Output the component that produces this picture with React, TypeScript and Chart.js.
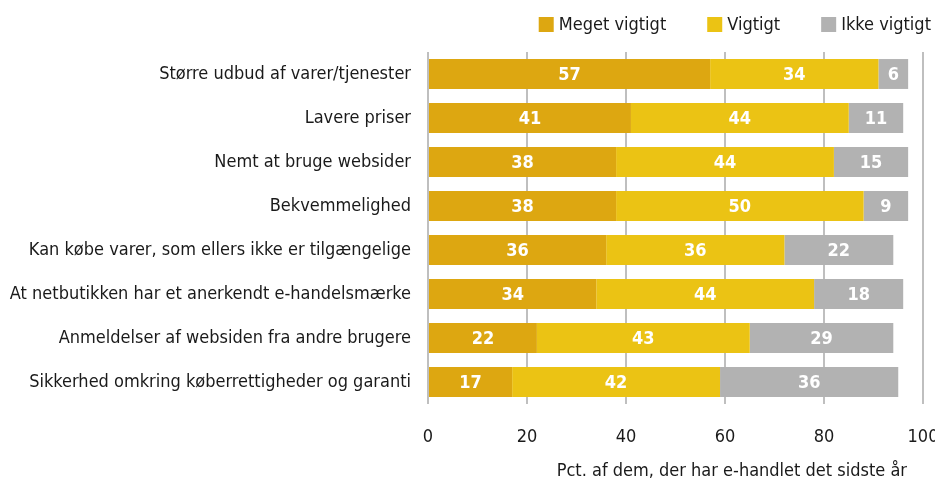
import React, { useEffect, useRef } from "react";
import { Chart, registerables } from "chart.js";

Chart.register(...registerables);

const categories = [
  "Større udbud af varer/tjenester",
  "Lavere priser",
  "Nemt at bruge websider",
  "Bekvemmelighed",
  "Kan købe varer, som ellers ikke er tilgængelige",
  "At netbutikken har et anerkendt e-handelsmærke",
  "Anmeldelser af websiden fra andre brugere",
  "Sikkerhed omkring køberrettigheder og garanti",
];
const megetVigtigt = [57, 41, 38, 38, 36, 34, 22, 17];
const vigtigt = [34, 44, 44, 50, 36, 44, 43, 42];
const ikkeVigtigt = [6, 11, 15, 9, 22, 18, 29, 36];
const seriesNames = ["Meget vigtigt", "Vigtigt", "Ikke vigtigt"];
const seriesColors = ["#DDA711", "#EBC314", "#B2B2B2"];
const xMin = 0;
const xMax = 100;
const xStep = 20;
const axisTitle = "Pct. af dem, der har e-handlet det sidste år";

const FONT = "'Liberation Sans Narrow', 'Arial Narrow', 'DejaVu Sans Condensed', sans-serif";
const TEXT = "#1a1a1a";
const SIZE = 18;

const valueLabels = {
  id: "valueLabels",
  afterDatasetsDraw(chart: any) {
    const ctx = chart.ctx;
    ctx.save();
    ctx.fillStyle = "#ffffff";
    ctx.font = `bold ${SIZE}px ${FONT}`;
    ctx.textAlign = "center";
    ctx.textBaseline = "middle";
    chart.data.datasets.forEach((ds: any, i: number) => {
      const meta = chart.getDatasetMeta(i);
      meta.data.forEach((el: any, j: number) => {
        const p = el.getCenterPoint();
        ctx.fillText(String(ds.data[j]), p.x, p.y + 1);
      });
    });
    ctx.restore();
  },
};

const legendAndTitle = {
  id: "legendAndTitle",
  afterDraw(chart: any) {
    const ctx = chart.ctx;
    const area = chart.chartArea;
    ctx.save();
    ctx.font = `${SIZE}px ${FONT}`;
    ctx.textBaseline = "middle";
    ctx.textAlign = "left";
    const box = 15;
    const gapText = 5;
    const gapItem = 41;
    const ds = chart.data.datasets;
    let right = area.right + 8;
    const cy = 24.5;
    for (let i = ds.length - 1; i >= 0; i--) {
      const w = ctx.measureText(ds[i].label).width;
      const textX = right - w;
      const boxX = textX - gapText - box;
      ctx.fillStyle = ds[i].backgroundColor;
      ctx.fillRect(boxX, cy - box / 2, box, box);
      ctx.fillStyle = TEXT;
      ctx.fillText(ds[i].label, textX, cy + 1);
      right = boxX - gapItem;
    }
    ctx.textAlign = "right";
    ctx.fillStyle = TEXT;
    ctx.fillText(axisTitle, area.right - 16, chart.height - 11);
    ctx.restore();
  },
};

export default function App() {
  const ref = useRef<HTMLCanvasElement | null>(null);

  useEffect(() => {
    document.body.style.margin = "0";
    document.body.style.overflow = "hidden";
    const canvas = ref.current;
    if (!canvas) return;
    const chart = new Chart(canvas, {
      type: "bar",
      data: {
        labels: categories,
        datasets: [
          { label: seriesNames[0], data: megetVigtigt, backgroundColor: seriesColors[0] },
          { label: seriesNames[1], data: vigtigt, backgroundColor: seriesColors[1] },
          { label: seriesNames[2], data: ikkeVigtigt, backgroundColor: seriesColors[2] },
        ],
      },
      options: {
        indexAxis: "y",
        responsive: false,
        animation: false,
        devicePixelRatio: 1,
        layout: { padding: { top: 52, left: 0, right: 0, bottom: 0 } },
        datasets: {
          bar: { barPercentage: 0.68, categoryPercentage: 1.0, borderWidth: 0 },
        },
        plugins: {
          legend: { display: false },
          tooltip: { enabled: false },
          title: { display: false },
        },
        scales: {
          x: {
            stacked: true,
            min: xMin,
            max: xMax,
            ticks: {
              stepSize: xStep,
              color: TEXT,
              font: { family: FONT, size: SIZE },
              padding: 23,
              maxRotation: 0,
            },
            grid: { color: "#BFBFBF", lineWidth: 2, drawTicks: false },
            border: { display: false },
            afterFit(scale: any) {
              scale.height = 78;
              scale.paddingRight = 12;
            },
          },
          y: {
            stacked: true,
            ticks: {
              color: TEXT,
              font: { family: FONT, size: SIZE },
              padding: 17,
            },
            grid: { display: false, drawTicks: false },
            border: { display: false },
            afterFit(scale: any) {
              scale.width = 428;
            },
          },
        },
      },
      plugins: [valueLabels, legendAndTitle],
    } as any);
    return () => chart.destroy();
  }, []);

  return (
    <div style={{ width: 935, height: 482 }}>
      <canvas ref={ref} width={935} height={482} style={{ display: "block" }} />
    </div>
  );
}
